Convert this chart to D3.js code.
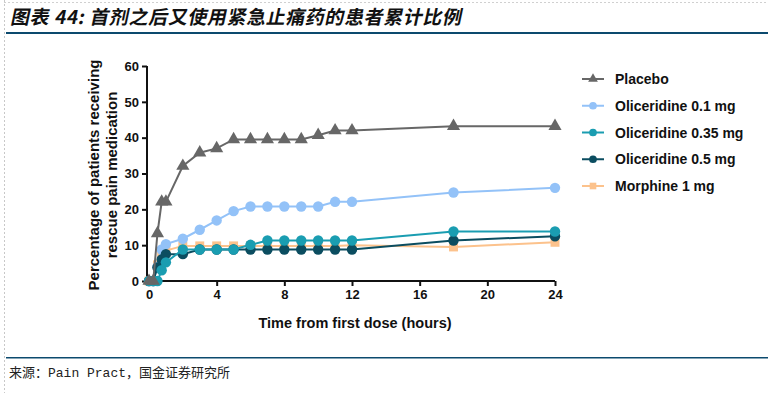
<!DOCTYPE html>
<html>
<head>
<meta charset="utf-8">
<script src="https://cdn.jsdelivr.net/npm/d3@7"></script>
<style>
  html, body { margin: 0; padding: 0; background: #fff; }
  svg { display: block; }
</style>
</head>
<body>
<svg id="chart" width="768" height="393"></svg>
<script>
// ---- data ----
const times = [0, 0.25, 0.5, 0.75, 1, 2, 3, 4, 5, 6, 7, 8, 9, 10, 11, 12, 18, 24];
const placebo = [0, 0, 13.3, 22.1, 22.1, 32.1, 35.8, 37.0, 39.5, 39.5, 39.5, 39.5, 39.5, 40.7, 42.0, 42.0, 43.2, 43.2];
const olic01 = [0, 0, 4.0, 8.8, 10.3, 11.8, 14.3, 16.9, 19.5, 20.8, 20.8, 20.8, 20.8, 20.8, 22.1, 22.1, 24.7, 26.0];
const olic035 = [0, 0, 0, 3.0, 5.2, 8.8, 8.8, 8.8, 8.8, 10.1, 11.3, 11.3, 11.3, 11.3, 11.3, 11.3, 13.8, 13.8];
const olic05 = [0, 0, 3.8, 6.0, 7.5, 7.5, 8.8, 8.8, 8.8, 8.8, 8.8, 8.8, 8.8, 8.8, 8.8, 8.8, 11.3, 12.5];
const morphine = [0, 0, 4.5, 7.0, 8.5, 9.8, 9.8, 9.8, 9.8, 9.8, 9.8, 9.8, 9.8, 9.8, 9.8, 10.0, 9.5, 10.8];
const seriesNames = ["Placebo", "Oliceridine 0.1 mg", "Oliceridine 0.35 mg", "Oliceridine 0.5 mg", "Morphine 1 mg"];
const xTicks = [0, 4, 8, 12, 16, 20, 24];
const yTicks = [0, 10, 20, 30, 40, 50, 60];
const titleText = "图表 44: 首剂之后又使用紧急止痛药的患者累计比例";
const sourceText = "来源：Pain Pract，国金证券研究所";
const yTitle = ["Percentage of patients receiving", "rescue pain medication"];
const xTitle = "Time from first dose (hours)";

// ---- styles ----
const styles = {
  "Placebo": { color: "#676767", symbol: d3.symbolTriangle, size: 75 },
  "Oliceridine 0.1 mg": { color: "#93c2f8", symbol: d3.symbolCircle, size: 85 },
  "Oliceridine 0.35 mg": { color: "#1a9db1", symbol: d3.symbolCircle, size: 85 },
  "Oliceridine 0.5 mg": { color: "#0b4d60", symbol: d3.symbolCircle, size: 85 },
  "Morphine 1 mg": { color: "#fcc28c", symbol: d3.symbolSquare, size: 80 }
};
const valuesByName = {
  "Placebo": placebo,
  "Oliceridine 0.1 mg": olic01,
  "Oliceridine 0.35 mg": olic035,
  "Oliceridine 0.5 mg": olic05,
  "Morphine 1 mg": morphine
};
const drawOrder = ["Morphine 1 mg", "Oliceridine 0.1 mg", "Oliceridine 0.5 mg", "Oliceridine 0.35 mg", "Placebo"];

const svg = d3.select("#chart");
const FONT = "'Liberation Sans', Arial, sans-serif";

// frame (dashed border)
svg.append("line").attr("x1", 4.5).attr("x2", 4.5).attr("y1", 0).attr("y2", 393)
  .attr("stroke", "#c8c8c8").attr("stroke-dasharray", "2,2");
svg.append("line").attr("x1", 4).attr("x2", 768).attr("y1", 2.5).attr("y2", 2.5)
  .attr("stroke", "#d0d0d0").attr("stroke-dasharray", "2,2");

// title
svg.append("text").attr("x", 10).attr("y", 24)
  .attr("font-family", "'Noto Sans CJK SC', sans-serif")
  .attr("font-weight", "bold")
  .attr("font-size", 19).attr("fill", "#111")
  .attr("letter-spacing", 0.6)
  .attr("transform", "skewX(-12) translate(5,0)")
  .text(titleText);
svg.append("rect").attr("x", 6).attr("y", 32).attr("width", 762).attr("height", 2).attr("fill", "#0c4a6e");

// footer
svg.append("rect").attr("x", 6).attr("y", 357).attr("width", 762).attr("height", 1.5).attr("fill", "#0c4a6e");
svg.append("text").attr("x", 9).attr("y", 377)
  .attr("font-family", "'Liberation Mono', 'Noto Sans CJK SC', monospace")
  .attr("font-size", 13).attr("fill", "#222")
  .text(sourceText);

// scales
const x = d3.scaleLinear().domain([0, 24]).range([149, 555]);
const y = d3.scaleLinear().domain([0, 60]).range([281, 66]);

// axes
const gx = svg.append("g").attr("transform", "translate(0,281)")
  .call(d3.axisBottom(x).tickValues(xTicks).tickSize(5).tickPadding(4).tickSizeOuter(0));
gx.select(".domain").attr("d", `M146.5,0H${x(24)}`);
const gy = svg.append("g").attr("transform", "translate(147,0)")
  .call(d3.axisLeft(y).tickValues(yTicks).tickSize(5).tickPadding(3).tickSizeOuter(0));
[gx, gy].forEach(g => {
  g.select(".domain").attr("stroke", "#111").attr("stroke-width", 2);
  g.selectAll(".tick line").attr("stroke", "#111").attr("stroke-width", 2);
  g.selectAll(".tick text").attr("font-family", FONT).attr("font-weight", "bold")
    .attr("font-size", 13).attr("fill", "#111");
});
gy.select(".domain").attr("d", `M0,${y(60)}V282`);

// axis titles
svg.append("text").attr("x", 355).attr("y", 328).attr("text-anchor", "middle")
  .attr("font-family", FONT).attr("font-weight", "bold").attr("font-size", 14.5).attr("fill", "#111")
  .text(xTitle);
yTitle.forEach((t, i) => {
  svg.append("text")
    .attr("transform", `translate(${99 + i * 18},${175}) rotate(-90)`)
    .attr("text-anchor", "middle")
    .attr("font-family", FONT).attr("font-weight", "bold").attr("font-size", 15).attr("fill", "#111")
    .text(t);
});

// series
const line = d3.line().x(d => x(d[0])).y(d => y(d[1]));
drawOrder.forEach(name => {
  const st = styles[name];
  const pts = times.map((t, i) => [t, valuesByName[name][i]]);
  const g = svg.append("g");
  g.append("path").attr("d", line(pts)).attr("fill", "none")
    .attr("stroke", st.color).attr("stroke-width", 2);
  g.selectAll("path.m").data(pts).enter().append("path").attr("class", "m")
    .attr("d", d3.symbol().type(st.symbol).size(st.size))
    .attr("transform", d => `translate(${x(d[0])},${y(d[1])})`)
    .attr("fill", st.color);
});

// legend
const legY = d3.scalePoint().domain(seriesNames).range([79, 186]);
seriesNames.forEach(name => {
  const st = styles[name];
  const g = svg.append("g").attr("transform", `translate(0,${legY(name)})`);
  g.append("line").attr("x1", 582).attr("x2", 604).attr("y1", 0).attr("y2", 0)
    .attr("stroke", st.color).attr("stroke-width", 2);
  g.append("path").attr("d", d3.symbol().type(st.symbol).size(st.size * 0.55))
    .attr("transform", "translate(593,0)").attr("fill", st.color);
  g.append("text").attr("x", 615).attr("y", 5)
    .attr("font-family", FONT).attr("font-weight", "bold").attr("font-size", 14).attr("fill", "#111")
    .text(name);
});
</script>
</body>
</html>
